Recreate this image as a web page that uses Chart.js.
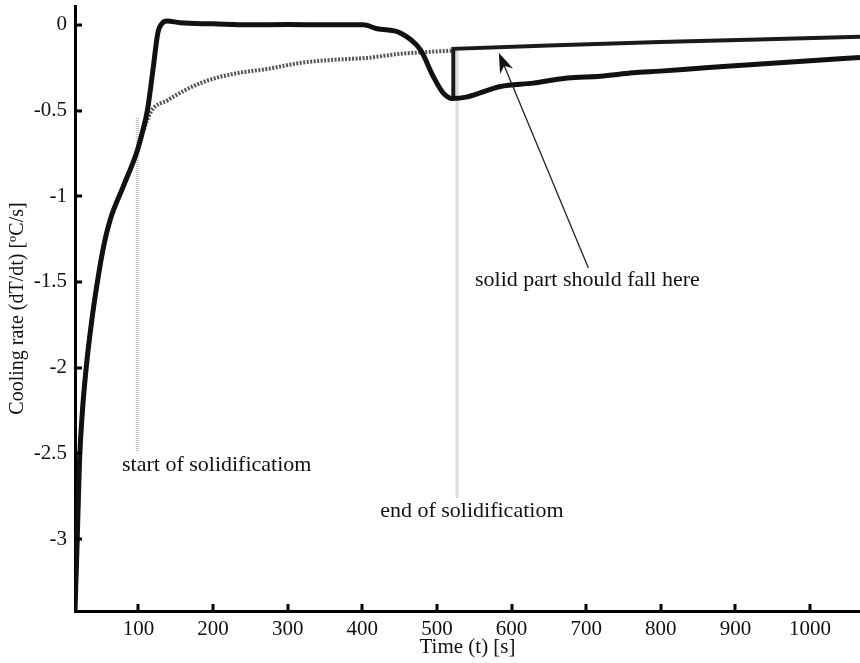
<!DOCTYPE html>
<html>
<head>
<meta charset="utf-8">
<script src="https://cdn.jsdelivr.net/npm/chart.js@4.4.0/dist/chart.umd.min.js"></script>
<style>
  html, body { margin: 0; padding: 0; background: #fff; }
  #wrap { width: 860px; height: 663px; }
</style>
</head>
<body>
<div id="wrap"><canvas id="coolingChart" width="860" height="663"></canvas></div>
<script>
// measured cooling rate (time in s, rate in ºC/s)
const mainTime = [15, 18, 21, 25, 30, 37, 45, 53, 62, 80, 98, 105, 112, 120, 126, 132, 138, 156, 200, 250, 300, 350, 401, 420, 451, 478, 495, 508, 521, 541, 585, 629, 675, 719, 763, 799, 860, 920, 1000, 1067];
const mainRate = [-3.42, -3.0, -2.55, -2.25, -2.0, -1.74, -1.5, -1.3, -1.14, -0.94, -0.74, -0.63, -0.50, -0.245, -0.047, 0.01, 0.023, 0.012, 0.006, 0.0, 0.002, 0.0, 0.0, -0.023, -0.047, -0.146, -0.30, -0.395, -0.43, -0.42, -0.36, -0.34, -0.31, -0.30, -0.28, -0.27, -0.25, -0.233, -0.21, -0.19];

// fitted base line (dotted)
const baseTime = [15, 18, 21, 25, 30, 37, 45, 53, 62, 80, 98, 116, 139, 183, 227, 273, 317, 361, 406, 451, 522];
const baseRate = [-3.42, -3.0, -2.55, -2.25, -2.0, -1.74, -1.5, -1.3, -1.14, -0.94, -0.74, -0.513, -0.44, -0.34, -0.286, -0.257, -0.222, -0.204, -0.193, -0.169, -0.15];

// solid part after end of solidification
const solidTime = [522, 522, 650, 799, 930, 1067];
const solidRate = [-0.43, -0.14, -0.12, -0.10, -0.085, -0.07];

// markers for start / end of solidification
const startTime = [98.5, 98.5];
const startRate = [-0.543, -2.49];
const endTime = [527, 527];
const endRate = [-0.15, -2.76];

const xTicks = [100, 200, 300, 400, 500, 600, 700, 800, 900, 1000];
const yTicks = [0, -0.5, -1, -1.5, -2, -2.5, -3];

function pairs(xs, ys) {
    return xs.map(function (x, i) { return { x: x, y: ys[i] }; });
}

const serif = "'Liberation Serif', 'Times New Roman', serif";

// inward tick marks + text labels and arrow
const annotationPlugin = {
    id: 'annotations',
    afterDatasetsDraw: function (chart) {
        const ctx = chart.ctx;
        const xs = chart.scales.x;
        const ys = chart.scales.y;
        const area = chart.chartArea;
        ctx.save();
        ctx.fillStyle = '#000';
        xTicks.forEach(function (t) {
            const px = Math.round(xs.getPixelForValue(t));
            ctx.fillRect(px - 1.5, area.bottom - 7, 3, 7);
        });
        yTicks.forEach(function (v) {
            const py = Math.round(ys.getPixelForValue(v));
            ctx.fillRect(area.left, py - 1.5, 7, 3);
        });

        ctx.font = '22px ' + serif;
        ctx.fillStyle = '#111';
        ctx.textBaseline = 'middle';
        ctx.textAlign = 'left';
        ctx.fillText('start of solidificatiom', xs.getPixelForValue(78), ys.getPixelForValue(-2.567));
        ctx.fillText('end of solidificatiom', xs.getPixelForValue(424), ys.getPixelForValue(-2.84));
        ctx.fillText('solid part should fall here', xs.getPixelForValue(551), ys.getPixelForValue(-1.488));

        // arrow
        const x0 = xs.getPixelForValue(703), y0 = ys.getPixelForValue(-1.418);
        const x1 = xs.getPixelForValue(583), y1 = ys.getPixelForValue(-0.163);
        const ang = Math.atan2(y1 - y0, x1 - x0);
        ctx.strokeStyle = '#222';
        ctx.lineWidth = 1.3;
        ctx.beginPath();
        ctx.moveTo(x0, y0);
        ctx.lineTo(x1 - 10 * Math.cos(ang), y1 - 10 * Math.sin(ang));
        ctx.stroke();
        ctx.fillStyle = '#111';
        ctx.beginPath();
        ctx.moveTo(x1, y1);
        ctx.lineTo(x1 - 20 * Math.cos(ang) + 7 * Math.sin(ang), y1 - 20 * Math.sin(ang) - 7 * Math.cos(ang));
        ctx.lineTo(x1 - 14 * Math.cos(ang), y1 - 14 * Math.sin(ang));
        ctx.lineTo(x1 - 20 * Math.cos(ang) - 7 * Math.sin(ang), y1 - 20 * Math.sin(ang) + 7 * Math.cos(ang));
        ctx.closePath();
        ctx.fill();
        ctx.restore();
    }
};

const ctx = document.getElementById('coolingChart').getContext('2d');
new Chart(ctx, {
    type: 'scatter',
    data: {
        datasets: [
            {
                label: 'cooling rate',
                data: pairs(mainTime, mainRate),
                showLine: true,
                borderColor: '#111',
                borderWidth: 5,
                pointRadius: 0,
                cubicInterpolationMode: 'monotone',
                order: 0
            },
            {
                label: 'solid part',
                data: pairs(solidTime, solidRate),
                showLine: true,
                borderColor: '#1a1a1a',
                borderWidth: 4,
                pointRadius: 0,
                tension: 0,
                order: 1
            },
            {
                label: 'base line',
                data: pairs(baseTime, baseRate),
                showLine: true,
                borderColor: '#555',
                borderWidth: 4,
                borderDash: [2, 1.5],
                pointRadius: 0,
                cubicInterpolationMode: 'monotone',
                order: 2
            },
            {
                label: 'start',
                data: pairs(startTime, startRate),
                showLine: true,
                borderColor: '#bbb',
                borderWidth: 3,
                borderDash: [1, 1],
                pointRadius: 0,
                order: 3
            },
            {
                label: 'end',
                data: pairs(endTime, endRate),
                showLine: true,
                borderColor: '#bbb',
                borderWidth: 3,
                borderDash: [1, 1],
                pointRadius: 0,
                order: 3
            }
        ]
    },
    options: {
        responsive: false,
        animation: false,
        layout: { padding: { top: 6, right: 0, left: 0, bottom: 0 } },
        plugins: {
            legend: { display: false },
            tooltip: { enabled: false }
        },
        scales: {
            x: {
                type: 'linear',
                min: 15,
                max: 1067,
                afterBuildTicks: function (scale) {
                    scale.ticks = xTicks.map(function (v) { return { value: v }; });
                },
                afterFit: function (scale) {
                    scale.height = 52;
                    scale.paddingLeft = 0;
                    scale.paddingRight = 0;
                },
                ticks: {
                    color: '#111',
                    font: { family: serif, size: 21 },
                    padding: 6,
                    maxRotation: 0,
                    callback: function (v) { return String(v); }
                },
                grid: { drawOnChartArea: false, drawTicks: false },
                border: { display: true, color: '#000', width: 3 },
                title: {
                    display: true,
                    text: 'Time (t) [s]',
                    color: '#111',
                    font: { family: serif, size: 21 },
                    padding: { top: 0, bottom: 3 }
                }
            },
            y: {
                type: 'linear',
                min: -3.42,
                max: 0.11,
                afterBuildTicks: function (scale) {
                    scale.ticks = yTicks.map(function (v) { return { value: v }; });
                },
                afterFit: function (scale) {
                    scale.width = 75;
                    scale.paddingTop = 0;
                    scale.paddingBottom = 0;
                },
                ticks: {
                    color: '#111',
                    font: { family: serif, size: 21 },
                    padding: 8,
                    callback: function (v) { return String(v); }
                },
                grid: { drawOnChartArea: false, drawTicks: false },
                border: { display: true, color: '#000', width: 3 },
                title: {
                    display: true,
                    text: 'Cooling rate (dT/dt) [ºC/s]',
                    color: '#111',
                    font: { family: serif, size: 20 },
                    padding: { top: 6, bottom: 0 }
                }
            }
        }
    },
    plugins: [annotationPlugin]
});
</script>
</body>
</html>
